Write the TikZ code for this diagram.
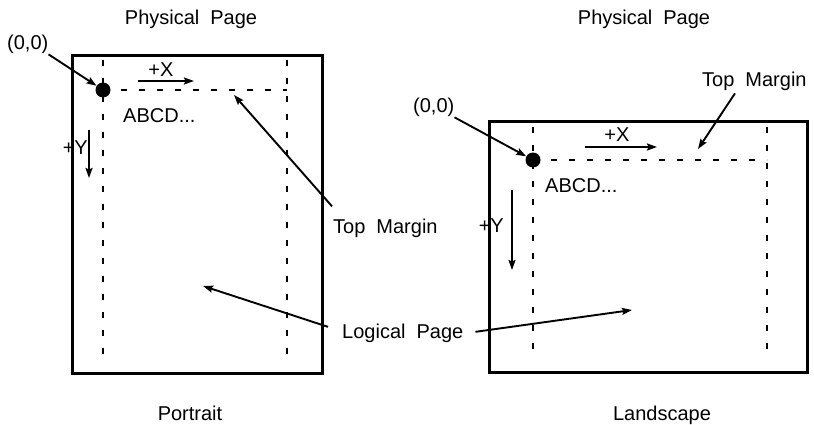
\documentclass[tikz,border=0pt]{standalone}
\usepackage{fontspec}
\setmainfont{Liberation Sans}
\usetikzlibrary{arrows.meta}
\newcommand\lblfont{\fontsize{20}{23}\selectfont\spaceskip=0.55em\relax}
\tikzset{
  lbl/.style={inner sep=0pt, font=\lblfont},
  pageframe/.style={line width=3pt},
  margin/.style={line width=2.4pt, dash pattern=on 6pt off 12pt},
  pointer/.style={line width=1.9pt, -{Stealth[length=10pt,width=7pt,inset=1.5pt]}},
  origin/.style={circle, fill=black, inner sep=0pt, minimum size=15pt}
}
\begin{document}
\begin{tikzpicture}[x=1pt,y=-1pt]
\useasboundingbox (0,0) rectangle (814,425);
\draw[pageframe] (72,56) rectangle (322,373);
\foreach \x in {103,287} \draw[margin] (\x,60) -- (\x,363);
\draw[margin] (103,90) -- (287,90);
\node[origin] (ol) at (103,90) {};
\draw[pageframe] (489,122) rectangle (807,372);
\foreach \x in {533,767} \draw[margin] (\x,127) -- (\x,360);
\draw[margin] (533,160) -- (767,160);
\node[origin] (or) at (533,160) {};
\node[lbl, anchor=base] (ppl) at (191,25) {Physical Page};
\node[lbl, anchor=base] (ppr) at (644,25) {Physical Page};
\node[lbl, anchor=base] (port) at (190,420) {Portrait};
\node[lbl, anchor=base] (land) at (662,420) {Landscape};
\node[lbl, anchor=base west] (zl) at (7,50) {(0,0)};
\node[lbl, anchor=base west] (zr) at (413,113) {(0,0)};
\node[lbl, anchor=base] (xl) at (161,77) {+X};
\node[lbl, anchor=base] (xr) at (617,142) {+X};
\node[lbl, anchor=base east] (yl) at (88,155) {+Y};
\node[lbl, anchor=base east] (yr) at (504,232) {+Y};
\node[lbl, anchor=base west] (al) at (123,123) {ABCD...};
\node[lbl, anchor=base west] (ar) at (545,192) {ABCD...};
\node[lbl, anchor=base west] (tml) at (333,233) {Top Margin};
\node[lbl, anchor=base west] (tmr) at (702,87) {Top Margin};
\node[lbl, anchor=base west] (lp) at (342,338) {Logical Page};
\coordinate (tmlend) at (234,95);
\coordinate (tmrend) at (698,149);
\coordinate (lpl) at (203,286);
\coordinate (lpr) at (632,310);
\draw[pointer] (zl.south east) -- (ol);
\draw[pointer] (zr.south east) -- (or);
\draw[pointer] ([shift={(35,-9)}]ol.center) -- ++(56,0);
\draw[pointer] ([shift={(52,-13)}]or.center) -- ++(72,0);
\draw[pointer] ([shift={(-14,40)}]ol.center) -- ++(0,48);
\draw[pointer] ([shift={(-21,30)}]or.center) -- ++(0,80);
\draw[pointer] ([shift={(-1,-12)}]tml.north west) -- (tmlend);
\draw[pointer] ([shift={(33,2)}]tmr.south west) -- (tmrend);
\draw[pointer] ([shift={(-14,-6)}]lp.west) -- (lpl);
\draw[pointer] ([shift={(12,-1)}]lp.east) -- (lpr);
\end{tikzpicture}
\end{document}
